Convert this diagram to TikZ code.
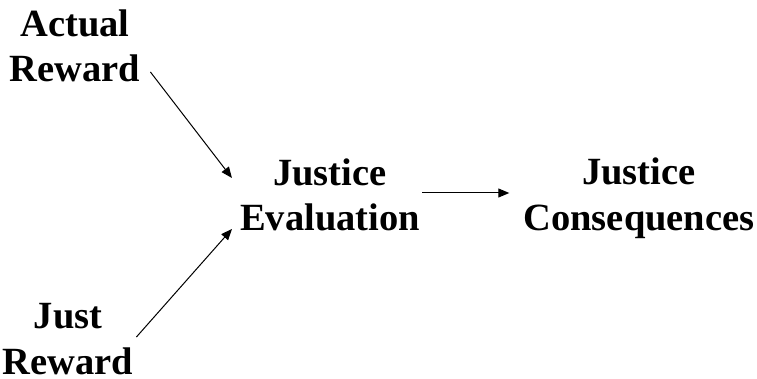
\documentclass[tikz,border=0pt]{standalone}
\usepackage{fontspec}
\setmainfont{Liberation Serif}
\usetikzlibrary{arrows.meta}
\begin{document}
\begin{tikzpicture}[x=1pt,y=-1pt,
  lbl/.style={font=\fontsize{38.5}{45.5}\selectfont\bfseries, align=center, inner sep=0pt},
  arr/.style={-{Triangle[length=11pt,width=9pt]}, line width=1pt}]
\useasboundingbox (0,0) rectangle (757,379);
\node[lbl] (ar) at (75,46) {Actual\\Reward};
\node[lbl] (jr) at (68,339) {Just\\Reward};
\node[lbl] (je) at (330,195) {Justice\\Evaluation};
\node[lbl] (jc) at (639,198) {Justice\\Consequences};
\draw[arr] ([shift={(10,26)}]ar.east) -- ([shift={(-8,-17)}]je.west);
\draw[arr] ([shift={(3,-2)}]jr.east) -- ([shift={(-8,34)}]je.west);
\draw[arr] ([shift={(2,-2)}]je.east) -- ([shift={(-14,-5)}]jc.west);
\end{tikzpicture}
\end{document}
